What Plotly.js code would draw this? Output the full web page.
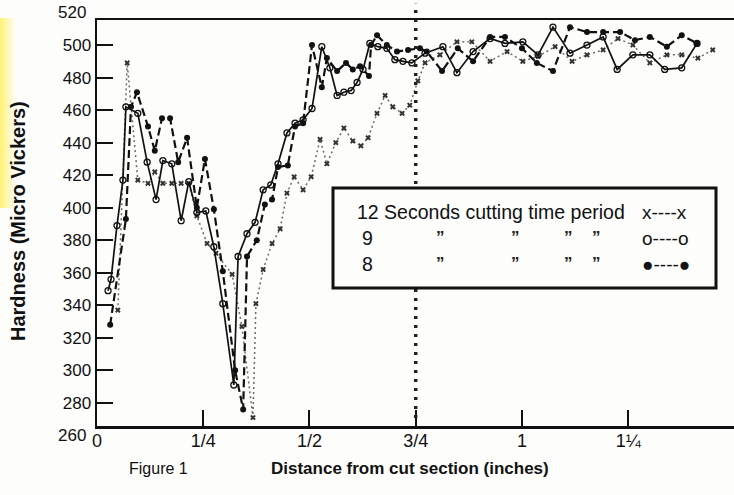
<!DOCTYPE html>
<html>
<head>
<meta charset="utf-8">
<script src="https://cdn.plot.ly/plotly-3.0.1.min.js"></script>
<style>
  html, body { margin: 0; padding: 0; background: #fdfdfb; }
  #wrap { position: relative; width: 734px; height: 495px; }
  #glow { position: absolute; left: 0; top: 18px; width: 16px; height: 190px;
          background: linear-gradient(to right, rgba(255,240,90,0.85), rgba(255,245,150,0.0)); }
  #chart { position: absolute; left: 0; top: 0; width: 734px; height: 495px; }
</style>
</head>
<body>
<div id="wrap"><div id="glow"></div><div id="chart"></div></div>
<script>
// ---- data (distance in inches, hardness in Micro Vickers) ----
const x12 = [0.049,0.071,0.096,0.120,0.136,0.155,0.176,0.198,0.216,0.235,0.259,0.280,0.318,0.341,0.367,0.374,0.391,0.412,0.431,0.447,0.464,0.485,0.504,0.525,0.541,0.562,0.581,0.602,0.621,0.638,0.659,0.678,0.696,0.718,0.736,0.755,0.772,0.807,0.847,0.882,0.925,0.965,1.002,1.038,1.078,1.118,1.153,1.191,1.226,1.261,1.301,1.341,1.376,1.414,1.449];
const y12 = [337,489,417,415,422,415,415,415,415,395,378,372,359,327,271,341,362,378,387,409,419,411,419,442,427,440,449,441,438,443,458,469,462,458,463,478,489,494,502,502,490,496,490,493,499,490,494,497,504,500,489,494,494,492,497];

const x9 = [0.026,0.033,0.047,0.061,0.068,0.096,0.118,0.139,0.155,0.176,0.198,0.216,0.235,0.256,0.275,0.296,0.322,0.332,0.353,0.372,0.391,0.409,0.426,0.447,0.466,0.485,0.506,0.529,0.548,0.565,0.581,0.598,0.612,0.626,0.642,0.661,0.682,0.701,0.720,0.741,0.772,0.814,0.847,0.885,0.925,0.960,1.002,1.038,1.073,1.113,1.153,1.191,1.224,1.261,1.301,1.336,1.376,1.412];
const y9 = [349,356,389,417,462,458,428,405,429,427,392,416,397,398,376,341,291,370,384,391,411,414,427,446,452,454,461,499,486,469,471,472,477,485,501,499,498,491,490,489,495,499,483,496,504,501,502,494,511,495,500,505,485,494,494,485,486,501];

const x8 = [0.031,0.068,0.080,0.094,0.120,0.136,0.153,0.172,0.191,0.212,0.235,0.254,0.275,0.296,0.325,0.344,0.353,0.376,0.395,0.412,0.426,0.449,0.466,0.485,0.506,0.529,0.541,0.565,0.586,0.602,0.619,0.640,0.645,0.659,0.682,0.706,0.732,0.760,0.776,0.812,0.849,0.885,0.925,0.960,1.000,1.035,1.073,1.113,1.153,1.191,1.231,1.266,1.301,1.341,1.376,1.412];
const y8 = [328,393,462,471,450,435,455,455,428,443,400,430,399,361,300,276,370,380,402,405,425,426,450,452,500,474,492,484,489,485,487,481,500,506,500,496,497,498,496,484,498,490,505,505,498,489,484,511,508,508,508,503,505,499,506,501];

const xTickVals = [0, 0.25, 0.5, 0.75, 1, 1.25];
const xTickText = ['0', '1/4', '1/2', '3/4', '1', '1\u00BC'];
const yTickVals = [280, 300, 320, 340, 360, 380, 400, 420, 440, 460, 480, 500];
const yExtraLabels = [520, 260];
const xRange = [0, 1.499];
const yRange = [265.8, 515.4];
const markX = 0.75;

const legendRows = ['12 Seconds cutting time period', '9', '8'];
const legendKeys = ['x----x', 'o----o', '\u25CF----\u25CF'];
const ditto = '\u201D';

// ---- layout helpers (pixel -> paper) ----
const L = 97, T = 20, W = 637, H = 406;
const px = p => (p - L) / W;
const py = p => (T + H - p) / H;
const yFrac = v => (v - yRange[0]) / (yRange[1] - yRange[0]);

const FONT = 'Liberation Sans, Arial, sans-serif';

const traces = [
  { x: x12, y: y12, mode: 'lines+markers', name: '12 s',
    line: { color: '#6a6a6a', width: 1.5, dash: '2px,3px' },
    marker: { symbol: 'x', size: 5, color: '#333', line: { width: 0 } } },
  { x: x9, y: y9, mode: 'lines+markers', name: '9 s',
    line: { color: '#111', width: 1.7 },
    marker: { symbol: 'circle-open', size: 6, color: '#111', line: { width: 1.3 } } },
  { x: x8, y: y8, mode: 'lines+markers', name: '8 s',
    line: { color: '#111', width: 2.2, dash: '8px,4px' },
    marker: { symbol: 'circle', size: 6, color: '#111' } }
];

const annotations = [];
yExtraLabels.forEach(v => annotations.push({
  xref: 'paper', yref: 'paper', x: 0, y: yFrac(v), xanchor: 'right', yanchor: 'middle',
  xshift: -9, showarrow: false, text: String(v), font: { family: FONT, size: 17, color: '#111' }
}));
annotations.push({ xref: 'paper', yref: 'paper', x: px(18), y: py(221), textangle: -90,
  showarrow: false, xanchor: 'center', yanchor: 'middle',
  text: '<b>Hardness (Micro Vickers)</b>', font: { family: FONT, size: 20, color: '#111' } });
annotations.push({ xref: 'paper', yref: 'paper', x: px(127), y: py(468), xanchor: 'left', yanchor: 'middle',
  showarrow: false, text: 'Figure 1', font: { family: FONT, size: 16, color: '#111' } });
annotations.push({ xref: 'paper', yref: 'paper', x: px(410), y: py(468), xanchor: 'center', yanchor: 'middle',
  showarrow: false, text: '<b>Distance from cut section (inches)</b>', font: { family: FONT, size: 17, color: '#111' } });

const rowY = [212, 238, 264];
legendRows.forEach((t, i) => {
  annotations.push({ xref: 'paper', yref: 'paper', x: px(i === 0 ? 355 : 360), y: py(rowY[i]), xanchor: 'left', yanchor: 'middle',
    showarrow: false, text: t, font: { family: FONT, size: 19.5, color: '#111' } });
  annotations.push({ xref: 'paper', yref: 'paper', x: px(640), y: py(rowY[i]), xanchor: 'left', yanchor: 'middle',
    showarrow: false, text: legendKeys[i], font: { family: FONT, size: 19, color: '#111' } });
  if (i > 0) {
    [440, 515, 568, 596].forEach(dx => annotations.push({ xref: 'paper', yref: 'paper', x: px(dx), y: py(rowY[i] - 1),
      xanchor: 'center', yanchor: 'middle', showarrow: false, text: '<b>' + ditto + '</b>',
      font: { family: FONT, size: 17, color: '#222' } }));
  }
});

const layout = {
  width: 734, height: 495,
  margin: { l: L, r: 734 - L - W, t: T, b: 495 - T - H, pad: 0 },
  paper_bgcolor: 'rgba(0,0,0,0)', plot_bgcolor: 'rgba(0,0,0,0)',
  showlegend: false,
  font: { family: FONT, size: 17, color: '#111' },
  xaxis: {
    range: xRange, tickvals: xTickVals, ticktext: xTickText,
    ticks: 'inside', ticklen: 16, tickwidth: 2, tickcolor: '#111',
    showline: true, linewidth: 2.5, linecolor: '#111', mirror: true,
    showgrid: false, zeroline: false, ticklabelstandoff: -3,
    tickfont: { family: FONT, size: 18, color: '#111' }
  },
  yaxis: {
    range: yRange, tickvals: yTickVals,
    ticks: 'inside', ticklen: 16, tickwidth: 2, tickcolor: '#111',
    showline: true, linewidth: 2.5, linecolor: '#111',
    showgrid: false, zeroline: false, tickfont: { family: FONT, size: 17, color: '#111' }
  },
  shapes: [
    { type: 'line', xref: 'x', yref: 'paper', x0: markX, x1: markX, y0: 0.02, y1: 1.04,
      line: { color: '#222', width: 3.5, dash: '3px,6px' } },
    { type: 'rect', xref: 'paper', yref: 'paper', x0: px(333), x1: px(716), y0: py(288), y1: py(188),
      fillcolor: '#fdfdfb', line: { color: '#111', width: 3 } }
  ],
  annotations: annotations
};

Plotly.newPlot('chart', traces, layout, { displayModeBar: false, staticPlot: true });
</script>
</body>
</html>
